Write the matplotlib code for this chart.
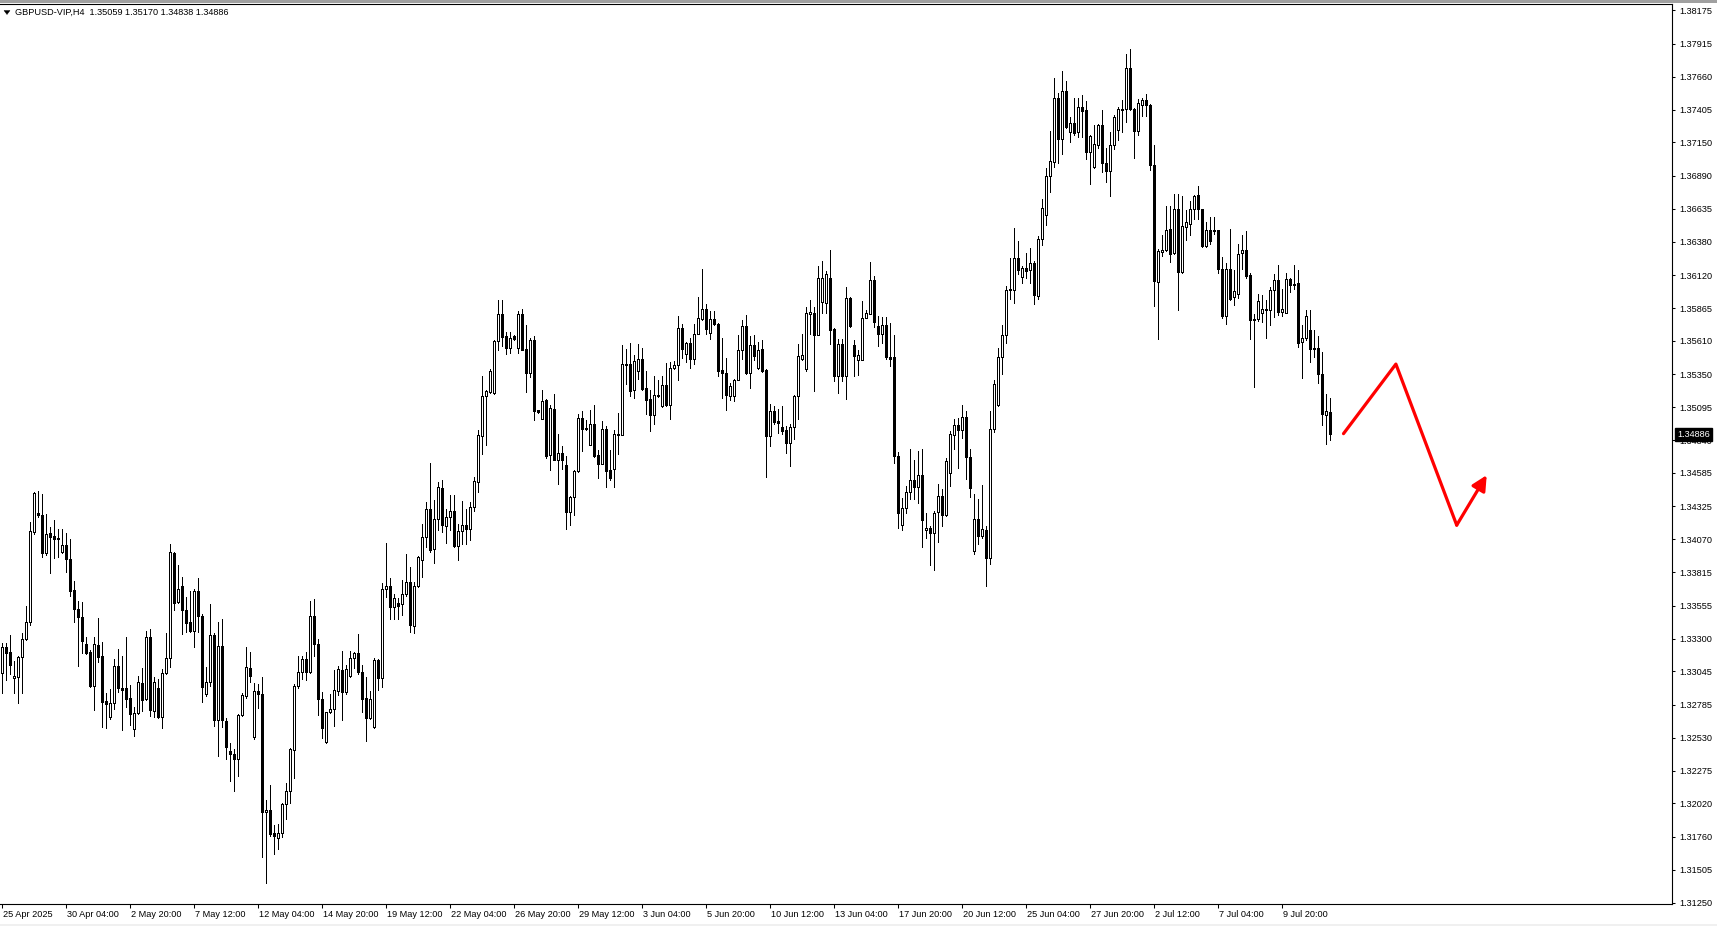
import matplotlib
matplotlib.use("Agg")
import matplotlib.pyplot as plt
import numpy as np
from matplotlib.patches import Polygon, Rectangle, FancyArrowPatch
import matplotlib.transforms as mtransforms

# ---------------- data (GBPUSD H4) ----------------
symbol = "GBPUSD-VIP,H4"

opens = [
 1.33030, 1.33231, 1.33195, 1.32991, 1.33004, 1.33154, 1.33293, 1.33430, 1.34129, 1.34276,
 1.34258, 1.33961, 1.34116, 1.34095, 1.34079, 1.33968, 1.34025, 1.33914, 1.33676, 1.33526,
 1.33464, 1.33257, 1.33198, 1.32934, 1.33249, 1.33164, 1.32815, 1.32688, 1.32797, 1.33086,
 1.32913, 1.32913, 1.32836, 1.32595, 1.32719, 1.32952, 1.32828, 1.33309, 1.32740, 1.32913,
 1.32693, 1.33030, 1.33151, 1.33961, 1.33586, 1.33710, 1.33521, 1.33425, 1.33361, 1.33668,
 1.33477, 1.32867, 1.32960, 1.33327, 1.32668, 1.33242, 1.32660, 1.32427, 1.32404, 1.32362,
 1.32706, 1.32856, 1.33068, 1.32538, 1.32892, 1.32869, 1.31951, 1.31969, 1.31788, 1.31750,
 1.31788, 1.32013, 1.32119, 1.32435, 1.32931, 1.33043, 1.33138, 1.33043, 1.33474, 1.33257,
 1.32828, 1.32494, 1.32727, 1.32750, 1.32895, 1.33055, 1.32887, 1.33009, 1.33146, 1.33185,
 1.33043, 1.32836, 1.32680, 1.32611, 1.33133, 1.32991, 1.33684, 1.33710, 1.33547, 1.33573,
 1.33565, 1.33642, 1.33736, 1.33399, 1.33710, 1.33909, 1.34085, 1.34302, 1.33992, 1.34224,
 1.34472, 1.34174, 1.34244, 1.34288, 1.34019, 1.34133, 1.34180, 1.34154, 1.34322, 1.34516,
 1.34873, 1.35180, 1.35214, 1.35206, 1.35607, 1.35822, 1.35646, 1.35558, 1.35646, 1.35555,
 1.35822, 1.35550, 1.35361, 1.35615, 1.35072, 1.35007, 1.35149, 1.34723, 1.35085, 1.34689,
 1.34743, 1.34645, 1.34283, 1.34399, 1.34601, 1.35015, 1.34935, 1.34805, 1.34963, 1.34723,
 1.34658, 1.34930, 1.34606, 1.34619, 1.34883, 1.34883, 1.35434, 1.35429, 1.35227, 1.35377,
 1.35473, 1.35245, 1.35157, 1.35038, 1.35188, 1.35105, 1.35266, 1.35116, 1.35400, 1.35426,
 1.35713, 1.35511, 1.35597, 1.35473, 1.35667, 1.35783, 1.35860, 1.35674, 1.35783, 1.35744,
 1.35382, 1.35361, 1.35183, 1.35183, 1.35310, 1.35542, 1.35729, 1.35361, 1.35581, 1.35400,
 1.35545, 1.35382, 1.34873, 1.35067, 1.34986, 1.34942, 1.34922, 1.34818, 1.34942, 1.35183,
 1.35467, 1.35395, 1.35822, 1.35827, 1.35659, 1.35912, 1.35907, 1.36101, 1.35705, 1.35338,
 1.35589, 1.35338, 1.35946, 1.35576, 1.35465, 1.35465, 1.35791, 1.35822, 1.36079, 1.35725,
 1.35664, 1.35733, 1.35482, 1.35482, 1.34715, 1.34181, 1.34313, 1.34438, 1.34529, 1.34474,
 1.34568, 1.34142, 1.34161, 1.34120, 1.34280, 1.34410, 1.34258, 1.34582, 1.34881, 1.34956,
 1.34917, 1.35019, 1.34707, 1.33976, 1.34230, 1.34092, 1.34142, 1.33926, 1.34928, 1.35111,
 1.35482, 1.35656, 1.36010, 1.36007, 1.36251, 1.36104, 1.36173, 1.36162, 1.36218, 1.35960,
 1.36403, 1.36589, 1.36893, 1.36998, 1.37491, 1.37178, 1.37546, 1.37234, 1.37297, 1.37228,
 1.37427, 1.37405, 1.37073, 1.36960, 1.37133, 1.37288, 1.36991, 1.36929, 1.37133, 1.37249,
 1.37399, 1.37407, 1.37730, 1.37407, 1.37239, 1.37443, 1.37477, 1.37438, 1.36973, 1.36067,
 1.36300, 1.36313, 1.36476, 1.36292, 1.36636, 1.36145, 1.36494, 1.36515, 1.36631, 1.36740,
 1.36631, 1.36347, 1.36468, 1.36468, 1.36468, 1.36171, 1.35801, 1.36171, 1.35951, 1.35977,
 1.36295, 1.36313, 1.36119, 1.35783, 1.35783, 1.35829, 1.35861, 1.35848, 1.36008, 1.36080,
 1.35835, 1.35829, 1.36093, 1.36054, 1.36062, 1.35602, 1.35636, 1.35692, 1.35558, 1.35558,
 1.35356, 1.35038, 1.35059]

highs = [
 1.33262, 1.33267, 1.33327, 1.33128, 1.33164, 1.33340, 1.33552, 1.34206, 1.34439, 1.34444,
 1.34418, 1.34263, 1.34162, 1.34219, 1.34147, 1.34147, 1.34116, 1.34072, 1.33746, 1.33591,
 1.33583, 1.33314, 1.33211, 1.33309, 1.33461, 1.33270, 1.32874, 1.32905, 1.33141, 1.33218,
 1.33164, 1.33309, 1.32939, 1.32766, 1.33009, 1.33068, 1.33358, 1.33374, 1.32999, 1.32983,
 1.33061, 1.33340, 1.34033, 1.33968, 1.33870, 1.33780, 1.33624, 1.33671, 1.33684, 1.33767,
 1.33490, 1.33081, 1.33565, 1.33340, 1.33425, 1.33449, 1.32680, 1.32487, 1.32443, 1.32714,
 1.32880, 1.33231, 1.33192, 1.32952, 1.32947, 1.32999, 1.32047, 1.32163, 1.31853, 1.31861,
 1.32021, 1.32176, 1.32453, 1.32944, 1.33164, 1.33167, 1.33192, 1.33591, 1.33606, 1.33296,
 1.32882, 1.32732, 1.32869, 1.33055, 1.33089, 1.33203, 1.33094, 1.33203, 1.33198, 1.33335,
 1.33094, 1.33004, 1.32895, 1.33146, 1.33141, 1.33733, 1.34043, 1.33767, 1.33645, 1.33617,
 1.33754, 1.33955, 1.33852, 1.33741, 1.33940, 1.34188, 1.34356, 1.34660, 1.34379, 1.34511,
 1.34529, 1.34309, 1.34412, 1.34412, 1.34187, 1.34368, 1.34309, 1.34361, 1.34555, 1.34922,
 1.35336, 1.35232, 1.35395, 1.35620, 1.35930, 1.35925, 1.35679, 1.35679, 1.35659, 1.35842,
 1.35860, 1.35731, 1.35636, 1.35651, 1.35077, 1.35227, 1.35162, 1.35111, 1.35196, 1.34891,
 1.34795, 1.34715, 1.34405, 1.34606, 1.35046, 1.35067, 1.34994, 1.35072, 1.35111, 1.34761,
 1.34989, 1.34948, 1.34767, 1.34922, 1.35054, 1.35576, 1.35550, 1.35597, 1.35498, 1.35589,
 1.35555, 1.35374, 1.35227, 1.35336, 1.35305, 1.35336, 1.35439, 1.35447, 1.35452, 1.35804,
 1.35744, 1.35602, 1.35636, 1.35739, 1.35951, 1.36166, 1.35894, 1.35842, 1.35840, 1.35749,
 1.35636, 1.35480, 1.35284, 1.35317, 1.35654, 1.35775, 1.35809, 1.35646, 1.35654, 1.35602,
 1.35615, 1.35395, 1.35123, 1.35103, 1.35080, 1.35105, 1.34950, 1.34963, 1.35188, 1.35584,
 1.35667, 1.35873, 1.35930, 1.35873, 1.36189, 1.36230, 1.36153, 1.36315, 1.35713, 1.35628,
 1.35628, 1.36029, 1.35951, 1.35620, 1.35537, 1.35920, 1.35853, 1.36222, 1.36113, 1.35803,
 1.35794, 1.35794, 1.35745, 1.35656, 1.34748, 1.34391, 1.34480, 1.34770, 1.34687, 1.34756,
 1.34770, 1.34277, 1.34175, 1.34291, 1.34502, 1.34460, 1.34701, 1.34909, 1.35005, 1.35014,
 1.35111, 1.35066, 1.34770, 1.34424, 1.34383, 1.34493, 1.34175, 1.35066, 1.35304, 1.35554,
 1.35733, 1.36035, 1.36257, 1.36486, 1.36384, 1.36190, 1.36292, 1.36334, 1.36232, 1.36425,
 1.36708, 1.36949, 1.37242, 1.37649, 1.37533, 1.37704, 1.37627, 1.37350, 1.37497, 1.37497,
 1.37519, 1.37469, 1.37206, 1.37283, 1.37296, 1.37399, 1.37110, 1.37231, 1.37360, 1.37425,
 1.37477, 1.37834, 1.37878, 1.37420, 1.37485, 1.37495, 1.37523, 1.37451, 1.37128, 1.36326,
 1.36435, 1.36654, 1.36657, 1.36753, 1.36753, 1.36732, 1.36629, 1.36693, 1.36745, 1.36810,
 1.36636, 1.36533, 1.36572, 1.36572, 1.36473, 1.36261, 1.36215, 1.36476, 1.36163, 1.36365,
 1.36429, 1.36460, 1.36140, 1.35822, 1.35977, 1.35964, 1.35930, 1.36029, 1.36127, 1.36197,
 1.36016, 1.36137, 1.36098, 1.36197, 1.36158, 1.35731, 1.35853, 1.35853, 1.35692, 1.35646,
 1.35524, 1.35201, 1.35170]

lows = [
 1.32874, 1.32978, 1.33024, 1.32880, 1.32802, 1.32880, 1.33288, 1.33405, 1.34108, 1.34245,
 1.33935, 1.33948, 1.33805, 1.33922, 1.33929, 1.33963, 1.33818, 1.33632, 1.33430, 1.33089,
 1.33190, 1.33179, 1.32926, 1.32745, 1.33120, 1.32616, 1.32603, 1.32673, 1.32753, 1.32887,
 1.32590, 1.32766, 1.32629, 1.32546, 1.32714, 1.32740, 1.32823, 1.32701, 1.32693, 1.32680,
 1.32603, 1.33024, 1.33081, 1.33521, 1.33578, 1.33332, 1.33353, 1.33353, 1.33231, 1.33348,
 1.32805, 1.32856, 1.32934, 1.32621, 1.32391, 1.32616, 1.32362, 1.32197, 1.32119, 1.32236,
 1.32701, 1.32841, 1.32965, 1.32517, 1.32758, 1.31602, 1.31400, 1.31770, 1.31625, 1.31667,
 1.31757, 1.31900, 1.32021, 1.32215, 1.32913, 1.32986, 1.32978, 1.33035, 1.33164, 1.32706,
 1.32530, 1.32489, 1.32719, 1.32624, 1.32861, 1.32668, 1.32867, 1.33004, 1.33068, 1.33024,
 1.32732, 1.32507, 1.32673, 1.32603, 1.32900, 1.32926, 1.33624, 1.33451, 1.33449, 1.33449,
 1.33482, 1.33630, 1.33348, 1.33345, 1.33702, 1.33774, 1.34012, 1.33973, 1.33888, 1.34142,
 1.34128, 1.34043, 1.34141, 1.34012, 1.33913, 1.34032, 1.34037, 1.34063, 1.34288, 1.34438,
 1.34736, 1.34805, 1.35206, 1.35201, 1.35537, 1.35571, 1.35511, 1.35516, 1.35615, 1.35516,
 1.35537, 1.35214, 1.35330, 1.34999, 1.35054, 1.35002, 1.34702, 1.34611, 1.34684, 1.34503,
 1.34619, 1.34154, 1.34180, 1.34262, 1.34593, 1.34756, 1.34917, 1.34800, 1.34710, 1.34547,
 1.34653, 1.34477, 1.34534, 1.34477, 1.34730, 1.34878, 1.35273, 1.35180, 1.35167, 1.35317,
 1.35227, 1.35046, 1.34909, 1.34963, 1.35175, 1.35098, 1.35105, 1.35007, 1.35395, 1.35310,
 1.35478, 1.35447, 1.35403, 1.35429, 1.35661, 1.35775, 1.35667, 1.35628, 1.35736, 1.35338,
 1.35167, 1.35077, 1.35155, 1.35144, 1.35305, 1.35473, 1.35356, 1.35248, 1.35460, 1.35395,
 1.35369, 1.34555, 1.34795, 1.34968, 1.34899, 1.34891, 1.34743, 1.34640, 1.34852, 1.35007,
 1.35460, 1.35374, 1.35667, 1.35222, 1.35654, 1.35827, 1.35827, 1.35584, 1.35299, 1.35206,
 1.35299, 1.35162, 1.35718, 1.35338, 1.35343, 1.35460, 1.35788, 1.35816, 1.35717, 1.35573,
 1.35592, 1.35473, 1.35412, 1.34659, 1.34156, 1.34139, 1.34272, 1.34383, 1.34383, 1.34355,
 1.34009, 1.34078, 1.33871, 1.33829, 1.34050, 1.34170, 1.34250, 1.34480, 1.34770, 1.34623,
 1.34853, 1.34535, 1.34402, 1.33954, 1.34031, 1.34084, 1.33704, 1.33876, 1.34900, 1.35102,
 1.35351, 1.35592, 1.35933, 1.35905, 1.36126, 1.36063, 1.36099, 1.36063, 1.35899, 1.35933,
 1.36356, 1.36508, 1.36763, 1.36957, 1.36993, 1.37059, 1.37261, 1.37156, 1.37206, 1.37192,
 1.37192, 1.37020, 1.36824, 1.36952, 1.37107, 1.36921, 1.36843, 1.36735, 1.37102, 1.37172,
 1.37231, 1.37309, 1.37399, 1.37029, 1.37205, 1.37355, 1.37355, 1.36939, 1.35881, 1.35628,
 1.36267, 1.36305, 1.36223, 1.36282, 1.35853, 1.36137, 1.36391, 1.36429, 1.36559, 1.36559,
 1.36339, 1.36339, 1.36360, 1.36442, 1.36140, 1.35788, 1.35744, 1.35930, 1.35891, 1.35946,
 1.36171, 1.36098, 1.35628, 1.35253, 1.35765, 1.35757, 1.35633, 1.35736, 1.35796, 1.35814,
 1.35801, 1.35827, 1.35990, 1.36016, 1.35563, 1.35325, 1.35615, 1.35447, 1.35486, 1.35286,
 1.34961, 1.34813, 1.34838]

closes = [
 1.33236, 1.33190, 1.33097, 1.33009, 1.33159, 1.33293, 1.33425, 1.34134, 1.34431, 1.34258,
 1.33961, 1.34108, 1.34090, 1.34069, 1.34069, 1.34025, 1.33914, 1.33671, 1.33526, 1.33464,
 1.33283, 1.33190, 1.32931, 1.33257, 1.33159, 1.32810, 1.32789, 1.32797, 1.33086, 1.32918,
 1.32900, 1.32830, 1.32712, 1.32719, 1.32960, 1.32823, 1.33309, 1.32745, 1.32960, 1.32693,
 1.33030, 1.33151, 1.33968, 1.33578, 1.33681, 1.33521, 1.33423, 1.33361, 1.33668, 1.33477,
 1.32926, 1.32960, 1.33327, 1.32668, 1.33242, 1.32668, 1.32461, 1.32401, 1.32365, 1.32706,
 1.32861, 1.33076, 1.33009, 1.32892, 1.32867, 1.31951, 1.31969, 1.31781, 1.31770, 1.31788,
 1.32013, 1.32119, 1.32443, 1.32931, 1.33043, 1.33138, 1.33043, 1.33474, 1.33255, 1.32828,
 1.32608, 1.32727, 1.32750, 1.32900, 1.33061, 1.32887, 1.33061, 1.33146, 1.33187, 1.33043,
 1.32830, 1.32686, 1.32830, 1.33133, 1.32991, 1.33684, 1.33710, 1.33547, 1.33617, 1.33552,
 1.33645, 1.33736, 1.33405, 1.33710, 1.33929, 1.34085, 1.34302, 1.33986, 1.34224, 1.34473,
 1.34180, 1.34244, 1.34288, 1.34017, 1.34133, 1.34180, 1.34154, 1.34317, 1.34521, 1.34883,
 1.35180, 1.35219, 1.35374, 1.35610, 1.35822, 1.35641, 1.35555, 1.35636, 1.35628, 1.35822,
 1.35542, 1.35361, 1.35620, 1.35067, 1.35059, 1.35144, 1.34715, 1.35092, 1.34689, 1.34743,
 1.34689, 1.34283, 1.34399, 1.34601, 1.35015, 1.34930, 1.34924, 1.34963, 1.34715, 1.34658,
 1.34924, 1.34601, 1.34547, 1.34886, 1.34891, 1.35434, 1.35426, 1.35222, 1.35452, 1.35473,
 1.35240, 1.35149, 1.35038, 1.35188, 1.35183, 1.35266, 1.35111, 1.35400, 1.35426, 1.35713,
 1.35550, 1.35597, 1.35467, 1.35667, 1.35791, 1.35860, 1.35705, 1.35783, 1.35744, 1.35377,
 1.35364, 1.35188, 1.35258, 1.35310, 1.35542, 1.35729, 1.35361, 1.35581, 1.35493, 1.35542,
 1.35377, 1.34873, 1.35067, 1.34981, 1.34976, 1.34911, 1.34818, 1.34942, 1.35183, 1.35493,
 1.35498, 1.35829, 1.35832, 1.35659, 1.36101, 1.36101, 1.36127, 1.35698, 1.35338, 1.35589,
 1.35338, 1.35946, 1.35726, 1.35493, 1.35498, 1.35791, 1.35827, 1.36080, 1.35758, 1.35664,
 1.35733, 1.35482, 1.35473, 1.34715, 1.34272, 1.34313, 1.34438, 1.34529, 1.34474, 1.34568,
 1.34217, 1.34156, 1.34120, 1.34277, 1.34410, 1.34258, 1.34679, 1.34889, 1.34956, 1.34917,
 1.35019, 1.34707, 1.34466, 1.34230, 1.34092, 1.34147, 1.33926, 1.34928, 1.35277, 1.35482,
 1.35656, 1.36007, 1.36002, 1.36251, 1.36160, 1.36173, 1.36154, 1.36218, 1.35969, 1.36398,
 1.36644, 1.36893, 1.37004, 1.37491, 1.37178, 1.37546, 1.37267, 1.37297, 1.37225, 1.37427,
 1.37394, 1.37073, 1.37198, 1.37135, 1.37288, 1.36991, 1.36929, 1.37133, 1.37347, 1.37407,
 1.37407, 1.37730, 1.37407, 1.37239, 1.37459, 1.37477, 1.37438, 1.36978, 1.36075, 1.36305,
 1.36318, 1.36468, 1.36287, 1.36636, 1.36145, 1.36499, 1.36533, 1.36631, 1.36732, 1.36631,
 1.36347, 1.36468, 1.36385, 1.36460, 1.36171, 1.35801, 1.36171, 1.35938, 1.35995, 1.36287,
 1.36313, 1.36114, 1.35775, 1.35775, 1.35917, 1.35861, 1.35848, 1.36008, 1.36080, 1.35835,
 1.35861, 1.36093, 1.36047, 1.36047, 1.35597, 1.35636, 1.35801, 1.35550, 1.35550, 1.35356,
 1.35041, 1.35064, 1.34886]

x_labels = ["25 Apr 2025", "30 Apr 04:00", "2 May 20:00", "7 May 12:00", "12 May 04:00",
            "14 May 20:00", "19 May 12:00", "22 May 04:00", "26 May 20:00", "29 May 12:00",
            "3 Jun 04:00", "5 Jun 20:00", "10 Jun 12:00", "13 Jun 04:00", "17 Jun 20:00",
            "20 Jun 12:00", "25 Jun 04:00", "27 Jun 20:00", "2 Jul 12:00", "7 Jul 04:00",
            "9 Jul 20:00"]
candles_per_label = 16

y_ticks = [1.38175, 1.37915, 1.37660, 1.37405, 1.37150, 1.36890, 1.36635, 1.36380,
           1.36120, 1.35865, 1.35610, 1.35350, 1.35095, 1.34840, 1.34585, 1.34325,
           1.34070, 1.33815, 1.33555, 1.33300, 1.33045, 1.32785, 1.32530, 1.32275,
           1.32020, 1.31760, 1.31505, 1.31250]

# projected path drawn on the chart (candle index, price)
path_x = [335.5, 348.6, 363.8, 371.3]
path_y = [1.34890, 1.35430, 1.34180, 1.34568]

# ---------------- figure ----------------
plt.rcParams['font.family'] = ['Liberation Sans', 'DejaVu Sans']
W, H = 1717, 926
fig = plt.figure(figsize=(W / 100, H / 100), dpi=100)
fig.patch.set_facecolor('white')

ax_left, ax_right, ax_top, ax_bottom = 0, 1672, 4.3, 904
ax = fig.add_axes([ax_left / W, 1 - ax_bottom / H, (ax_right - ax_left) / W,
                   (ax_bottom - ax_top) / H])
ax.set_facecolor('white')

o = np.array(opens); h = np.array(highs); l = np.array(lows); c = np.array(closes)
n = len(o)
x = np.arange(n)

ax.set_xlim(-0.375, -0.375 + (ax_right - ax_left) / 4.0)
ax.set_ylim(1.31240, 1.38222)

up = c >= o
body_top = np.maximum(o, c)
body_bot = np.minimum(o, c)
# wicks above and below the body
ax.vlines(x, body_top, h, color='black', linewidth=0.72, zorder=2, antialiased=False)
ax.vlines(x, l, body_bot, color='black', linewidth=0.72, zorder=2, antialiased=False)
ax.bar(x, body_top - body_bot, bottom=body_bot, width=0.5,
       color=np.where(up, 'white', 'black'), edgecolor='black', linewidth=0.72,
       zorder=3, antialiased=False)

# projection path
ax.plot(path_x[:-1], path_y[:-1], color='#ff0000', linewidth=2.3,
        solid_capstyle='round', solid_joinstyle='round', zorder=5)
arr = FancyArrowPatch((path_x[-2], path_y[-2]), (path_x[-1], path_y[-1]),
                      arrowstyle='-|>,head_length=0.9,head_width=0.45',
                      mutation_scale=10, color='#ff0000', linewidth=2.3,
                      shrinkA=0, shrinkB=0, zorder=5, capstyle='round')
ax.add_patch(arr)

# axes styling
ax.spines['left'].set_visible(False)
for s in ['top', 'right', 'bottom']:
    ax.spines[s].set_linewidth(0.8)
    ax.spines[s].set_color('black')

ax.yaxis.tick_right()
ax.set_yticks(y_ticks)
ax.set_yticklabels([f"{v:.5f}" for v in y_ticks])
ax.tick_params(axis='y', direction='out', length=2.4, width=0.75, pad=2.6,
               labelsize=6.6, colors='black')

ax.set_xticks([k * candles_per_label for k in range(len(x_labels))])
ax.set_xticklabels(x_labels)
ax.tick_params(axis='x', direction='out', length=3.0, width=0.75, pad=1.6,
               labelsize=6.6, colors='black')
offset = mtransforms.ScaledTranslation(1.5 / 100, 0, fig.dpi_scale_trans)
for lbl in ax.get_xticklabels():
    lbl.set_ha('left')
    lbl.set_transform(lbl.get_transform() + offset)

# last price box
last = closes[-1]
trans = mtransforms.blended_transform_factory(ax.transAxes, ax.transData)
ax.text(1.0 + 5.5 / (ax_right - ax_left), last, f"{last:.5f}", transform=trans,
        ha='left', va='center', fontsize=6.6, color='white', zorder=20, clip_on=False,
        bbox=dict(boxstyle='square,pad=0.22', fc='black', ec='black'))

# header
fig.text(15 / W, 1 - 12.7 / H,
         f"{symbol}  {opens[-1]:.5f} {highs[-1]:.5f} {lows[-1]:.5f} {closes[-1]:.5f}",
         ha='left', va='center', fontsize=6.6, color='black')
tri = Polygon([[4 / W, 1 - 10.5 / H], [10 / W, 1 - 10.5 / H], [7 / W, 1 - 14.5 / H]],
              closed=True, transform=fig.transFigure, fc='black', ec='black', lw=0.3)
fig.patches.append(tri)

# window edge bands
fig.patches.append(Rectangle((0, 1 - 2.5 / H), 1, 2.5 / H, transform=fig.transFigure,
                             fc='#a0a0a0', ec='none'))
fig.patches.append(Rectangle((0, 0), 1, 2 / H, transform=fig.transFigure,
                             fc='#f0f0f0', ec='none'))

fig.savefig('out.png', dpi=100, facecolor='white')
